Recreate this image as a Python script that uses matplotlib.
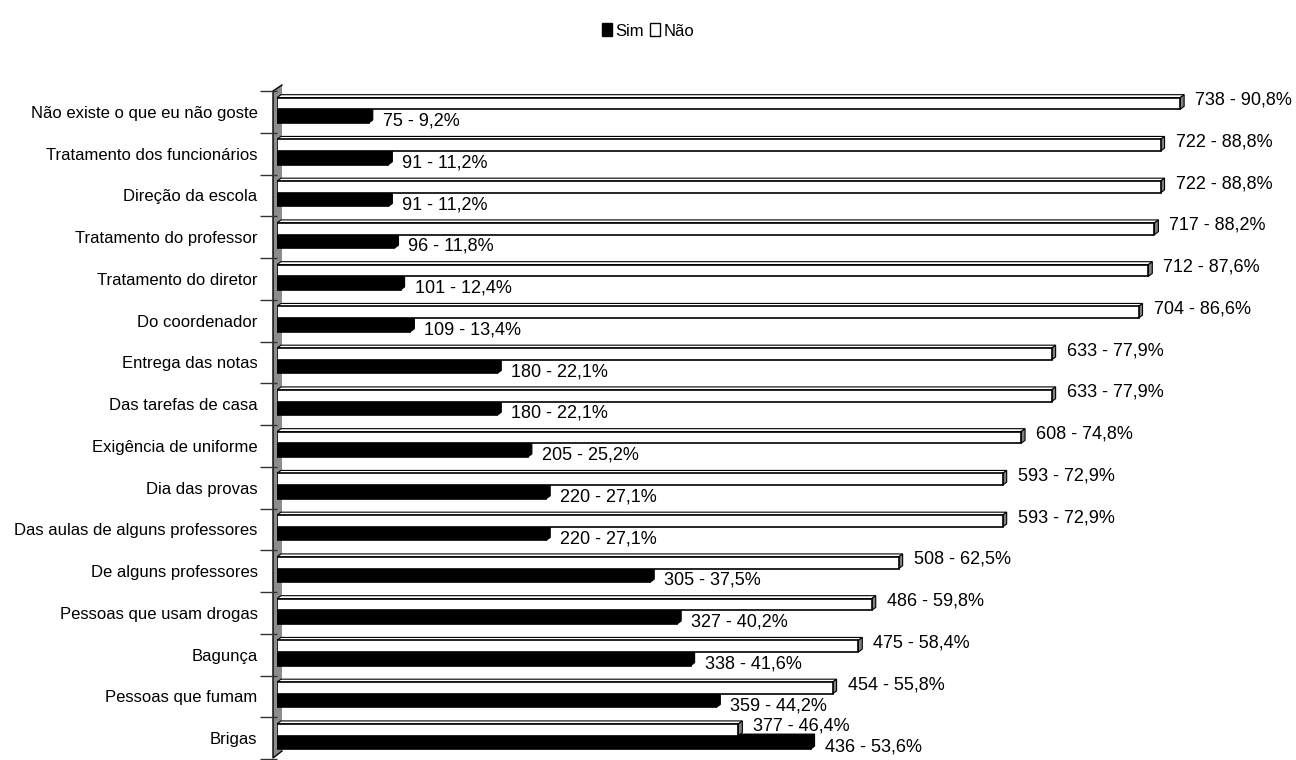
import numpy as np
import matplotlib
matplotlib.use("Agg")
import matplotlib.pyplot as plt
from matplotlib.patches import Polygon, Patch
from matplotlib.lines import Line2D

categories = ["Não existe o que eu não goste", "Tratamento dos funcionários", "Direção da escola",
              "Tratamento do professor", "Tratamento do diretor", "Do coordenador",
              "Entrega das notas", "Das tarefas de casa", "Exigência de uniforme",
              "Dia das provas", "Das aulas de alguns professores", "De alguns professores",
              "Pessoas que usam drogas", "Bagunça", "Pessoas que fumam", "Brigas"]
nao = [738, 722, 722, 717, 712, 704, 633, 633, 608, 593, 593, 508, 486, 475, 454, 377]
nao_pct = ["90,8", "88,8", "88,8", "88,2", "87,6", "86,6", "77,9", "77,9", "74,8",
           "72,9", "72,9", "62,5", "59,8", "58,4", "55,8", "46,4"]
sim = [75, 91, 91, 96, 101, 109, 180, 180, 205, 220, 220, 305, 327, 338, 359, 436]
sim_pct = ["9,2", "11,2", "11,2", "11,8", "12,4", "13,4", "22,1", "22,1", "25,2",
           "27,1", "27,1", "37,5", "40,2", "41,6", "44,2", "53,6"]

plt.rcParams["font.family"] = ["Liberation Sans", "DejaVu Sans"]
FS = 13
FS_CAT = 12

W, H = 1296, 760
fig = plt.figure(figsize=(W / 100, H / 100), dpi=100)
left, right, top, bottom = 277 / W, 1256 / W, 1 - 91 / H, 1 - 759 / H
ax = fig.add_axes([left, bottom, right - left, top - bottom])

xmax = 800
n = len(categories)
ax.set_xlim(0, xmax)
ax.set_ylim(n - 0.5, -0.5)

# depth of the 3d bars, in pixels -> data units
px_x = (right - left) * W / xmax
px_y = (top - bottom) * H / n
dx = 4 / px_x
dy = 3 / px_y

def bar3d(v, yc, h, face, side, topc):
    y0, y1 = yc - h / 2, yc + h / 2
    ax.add_patch(Polygon([(0, y0), (v, y0), (v + dx, y0 - dy), (dx, y0 - dy)],
                         closed=True, facecolor=topc, edgecolor="black", lw=0.8, zorder=3))
    ax.add_patch(Polygon([(v, y0), (v, y1), (v + dx, y1 - dy), (v + dx, y0 - dy)],
                         closed=True, facecolor=side, edgecolor="black", lw=0.8, zorder=3))
    ax.barh(yc, v, height=h, color=face, edgecolor="black", lw=1.2, zorder=4)

ys = np.arange(n)
for i in range(n):
    bar3d(sim[i], ys[i] + 0.12, 0.29, "black", "black", "black")
    bar3d(nao[i], ys[i] - 0.2, 0.28, "white", "#808080", "white")
    ax.annotate(f"{nao[i]} - {nao_pct[i]}%", (nao[i], ys[i] - 0.28), xytext=(15, 0),
                textcoords="offset pixels", va="center", ha="left", fontsize=FS,
                annotation_clip=False)
    ax.annotate(f"{sim[i]} - {sim_pct[i]}%", (sim[i], ys[i] + 0.22), xytext=(14, 0),
                textcoords="offset pixels", va="center", ha="left", fontsize=FS,
                annotation_clip=False)

# side wall, behind the bars
wx0, wx1 = left - 4 / W, left + 5 / W
wall = [(wx0, top), (wx1, top + 6 / H), (wx1, bottom + 8 / H), (wx0, bottom + 1 / H)]
ax.add_patch(Polygon(wall, closed=True, transform=fig.transFigure, clip_on=False,
                     facecolor="#8c8c8c", edgecolor="none", zorder=1))
ax.add_line(Line2D([wx1, wx0, wx0, wx1], [top + 6 / H, top, bottom + 1 / H, bottom + 8 / H],
                   transform=fig.transFigure, clip_on=False, color="black", lw=1.0, zorder=1.5))

for s in ax.spines.values():
    s.set_visible(False)
ax.set_xticks([])
ax.set_yticks(np.arange(n + 1) - 0.5)
ax.set_yticklabels([])
ax.set_yticks(ys, categories, minor=True)
ax.tick_params(axis="y", which="major", length=12, width=1, color="#333333")
ax.tick_params(axis="y", which="minor", length=0, pad=14, labelsize=FS_CAT)
ax.patch.set_alpha(0)

handles = [Patch(facecolor="black", edgecolor="black", label="Sim"),
           Patch(facecolor="white", edgecolor="black", label="Não")]
fig.legend(handles=handles, loc="center", bbox_to_anchor=(0.5, 1 - 31 / H), ncol=2,
           frameon=False, fontsize=FS_CAT, handlelength=0.6, handleheight=0.8,
           handletextpad=0.2, columnspacing=0.4)

fig.savefig("out.png", dpi=100)
